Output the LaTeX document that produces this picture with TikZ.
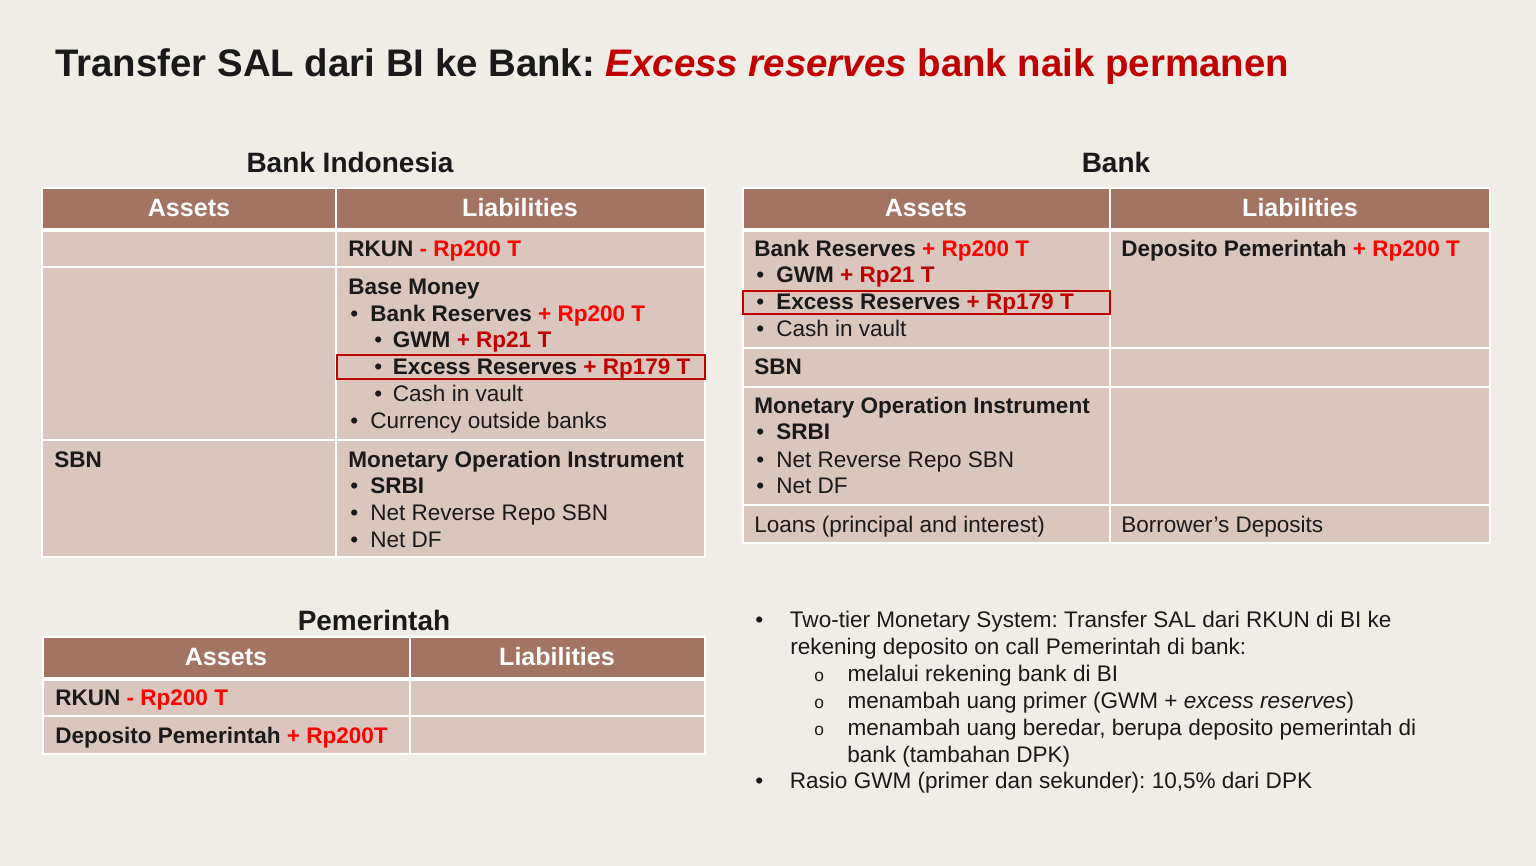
\documentclass[tikz,border=0pt]{standalone}
\usepackage{fontspec}
\setmainfont{Liberation Sans}
\frenchspacing

\definecolor{bgc}{HTML}{F0ECE6}
\definecolor{headc}{HTML}{A47462}
\definecolor{cellc}{HTML}{DBC6BE}
\definecolor{redA}{HTML}{FF0000}
\definecolor{redB}{HTML}{C00000}
\definecolor{ink}{HTML}{1A1A1A}

\newcommand{\up}[1]{\textcolor{redA}{#1}}
\newcommand{\dk}[1]{\textcolor{redB}{#1}}
\newcommand{\bl}[1]{\makebox[#1][l]{•}}
\newcommand{\ob}{\makebox[25pt][l]{\fontsize{13}{15}\selectfont o}}

\tikzset{
  head/.style={fill=headc, draw=white, line width=1.5pt},
  cell/.style={fill=cellc, draw=white, line width=1.5pt},
  hilite/.style={draw=redB, line width=1pt},
  txt/.style={anchor=base west, inner sep=0pt, text=ink, font=\fontsize{16.9}{20}\selectfont},
  hdr/.style={anchor=base, inner sep=0pt, text=white, font=\bfseries\fontsize{18.8}{22}\selectfont},
  ttl/.style={anchor=base, inner sep=0pt, text=ink, font=\bfseries\fontsize{21}{25}\selectfont},
}

\begin{document}
\begin{tikzpicture}[x=0.75pt,y=-0.75pt]
\fill[bgc] (0,0) rectangle (1536,866);
\useasboundingbox (0,0) rectangle (1536,866);

% title
\node[anchor=base west, inner sep=0pt, text=ink, font=\bfseries\fontsize{28.8}{32}\selectfont]
  (title) at (55,77) {Transfer SAL dari BI ke Bank: \textcolor{redB}{\itshape Excess reserves} \textcolor{redB}{bank naik permanen}};

% Bank Indonesia
\node[ttl] (biT) at (350,173) {Bank Indonesia};
\draw[head] (42,188) rectangle (336,229);
\draw[head] (336,188) rectangle (705,229);
\draw[cell] (42,231) rectangle (336,267);
\draw[cell] (336,231) rectangle (705,267);
\draw[cell] (42,267) rectangle (336,440);
\draw[cell] (336,267) rectangle (705,440);
\draw[cell] (42,440) rectangle (336,557);
\draw[cell] (336,440) rectangle (705,557);
\draw[hilite] (337,355) rectangle (705,379);
\node[hdr] (biHa) at (189,217) {Assets};
\node[hdr] (biHl) at (520,217) {Liabilities};
\node[txt] (biRkun) at (348,257) {\bfseries RKUN \up{- Rp200 T}};
\node[txt] (biBm) at (348,295) {\bfseries Base Money};
\node[txt] (biBr) at (350,322) {\bl{15pt}\bfseries Bank Reserves \up{+ Rp200 T}};
\node[txt] (biGwm) at (374,348) {\bl{14pt}\bfseries GWM \dk{+ Rp21 T}};
\node[txt] (biEx) at (374,375) {\bl{14pt}\bfseries Excess Reserves \dk{+ Rp179 T}};
\node[txt] (biCash) at (374,402) {\bl{14pt}Cash in vault};
\node[txt] (biCur) at (350,428) {\bl{15pt}Currency outside banks};
\node[txt] (biSbn) at (54,467) {\bfseries SBN};
\node[txt] (biMoi) at (348,467) {\bfseries Monetary Operation Instrument};
\node[txt] (biSrbi) at (350,493) {\bl{15pt}\bfseries SRBI};
\node[txt] (biRr) at (350,520) {\bl{15pt}Net Reverse Repo SBN};
\node[txt] (biDf) at (350,547) {\bl{15pt}Net DF};

% Bank
\node[ttl] (bkT) at (1116,173) {Bank};
\draw[head] (743,188) rectangle (1110,229);
\draw[head] (1110,188) rectangle (1490,229);
\draw[cell] (743,231) rectangle (1110,348);
\draw[cell] (1110,231) rectangle (1490,348);
\draw[cell] (743,348) rectangle (1110,387);
\draw[cell] (1110,348) rectangle (1490,387);
\draw[cell] (743,387) rectangle (1110,505);
\draw[cell] (1110,387) rectangle (1490,505);
\draw[cell] (743,505) rectangle (1110,543);
\draw[cell] (1110,505) rectangle (1490,543);
\draw[hilite] (743,291) rectangle (1110,314);
\node[hdr] (bkHa) at (926,217) {Assets};
\node[hdr] (bkHl) at (1300,217) {Liabilities};
\node[txt] (bkBr) at (754,257) {\bfseries Bank Reserves \up{+ Rp200 T}};
\node[txt] (bkGwm) at (756,283) {\bl{15pt}\bfseries GWM \dk{+ Rp21 T}};
\node[txt] (bkEx) at (756,310) {\bl{15pt}\bfseries Excess Reserves \dk{+ Rp179 T}};
\node[txt] (bkCash) at (756,337) {\bl{15pt}Cash in vault};
\node[txt] (bkSbn) at (754,375) {\bfseries SBN};
\node[txt] (bkMoi) at (754,413) {\bfseries Monetary Operation Instrument};
\node[txt] (bkSrbi) at (756,440) {\bl{15pt}\bfseries SRBI};
\node[txt] (bkRr) at (756,467) {\bl{15pt}Net Reverse Repo SBN};
\node[txt] (bkDf) at (756,493) {\bl{15pt}Net DF};
\node[txt] (bkLoan) at (754,532) {Loans (principal and interest)};
\node[txt] (bkDep) at (1121,257) {\bfseries Deposito Pemerintah \up{+ Rp200 T}};
\node[txt] (bkBor) at (1121,532) {Borrower’s Deposits};

% Pemerintah
\node[ttl] (pmT) at (374,630) {Pemerintah};
\draw[head] (43,637) rectangle (410,678);
\draw[head] (410,637) rectangle (705,678);
\draw[cell] (43,680) rectangle (410,716);
\draw[cell] (410,680) rectangle (705,716);
\draw[cell] (43,716) rectangle (410,754);
\draw[cell] (410,716) rectangle (705,754);
\node[hdr] (pmHa) at (226,665) {Assets};
\node[hdr] (pmHl) at (557,665) {Liabilities};
\node[txt] (pmRkun) at (55,705) {\bfseries RKUN \up{- Rp200 T}};
\node[txt] (pmDep) at (55,743) {\bfseries Deposito Pemerintah \up{+ Rp200T}};

% notes
\node[txt] (n1) at (755,627) {\bl{26pt}Two-tier Monetary System: Transfer SAL dari RKUN di BI ke};
\node[txt] (n1b) at (790,654) {rekening deposito on call Pemerintah di bank:};
\node[txt] (n2) at (814,681) {\ob melalui rekening bank di BI};
\node[txt] (n3) at (814,708) {\ob menambah uang primer (GWM + \textit{excess reserves})};
\node[txt] (n4) at (814,735) {\ob menambah uang beredar, berupa deposito pemerintah di};
\node[txt] (n4b) at (847,762) {bank (tambahan DPK)};
\node[txt] (n5) at (755,788) {\bl{26pt}Rasio GWM (primer dan sekunder): 10,5\% dari DPK};
\end{tikzpicture}
\end{document}
